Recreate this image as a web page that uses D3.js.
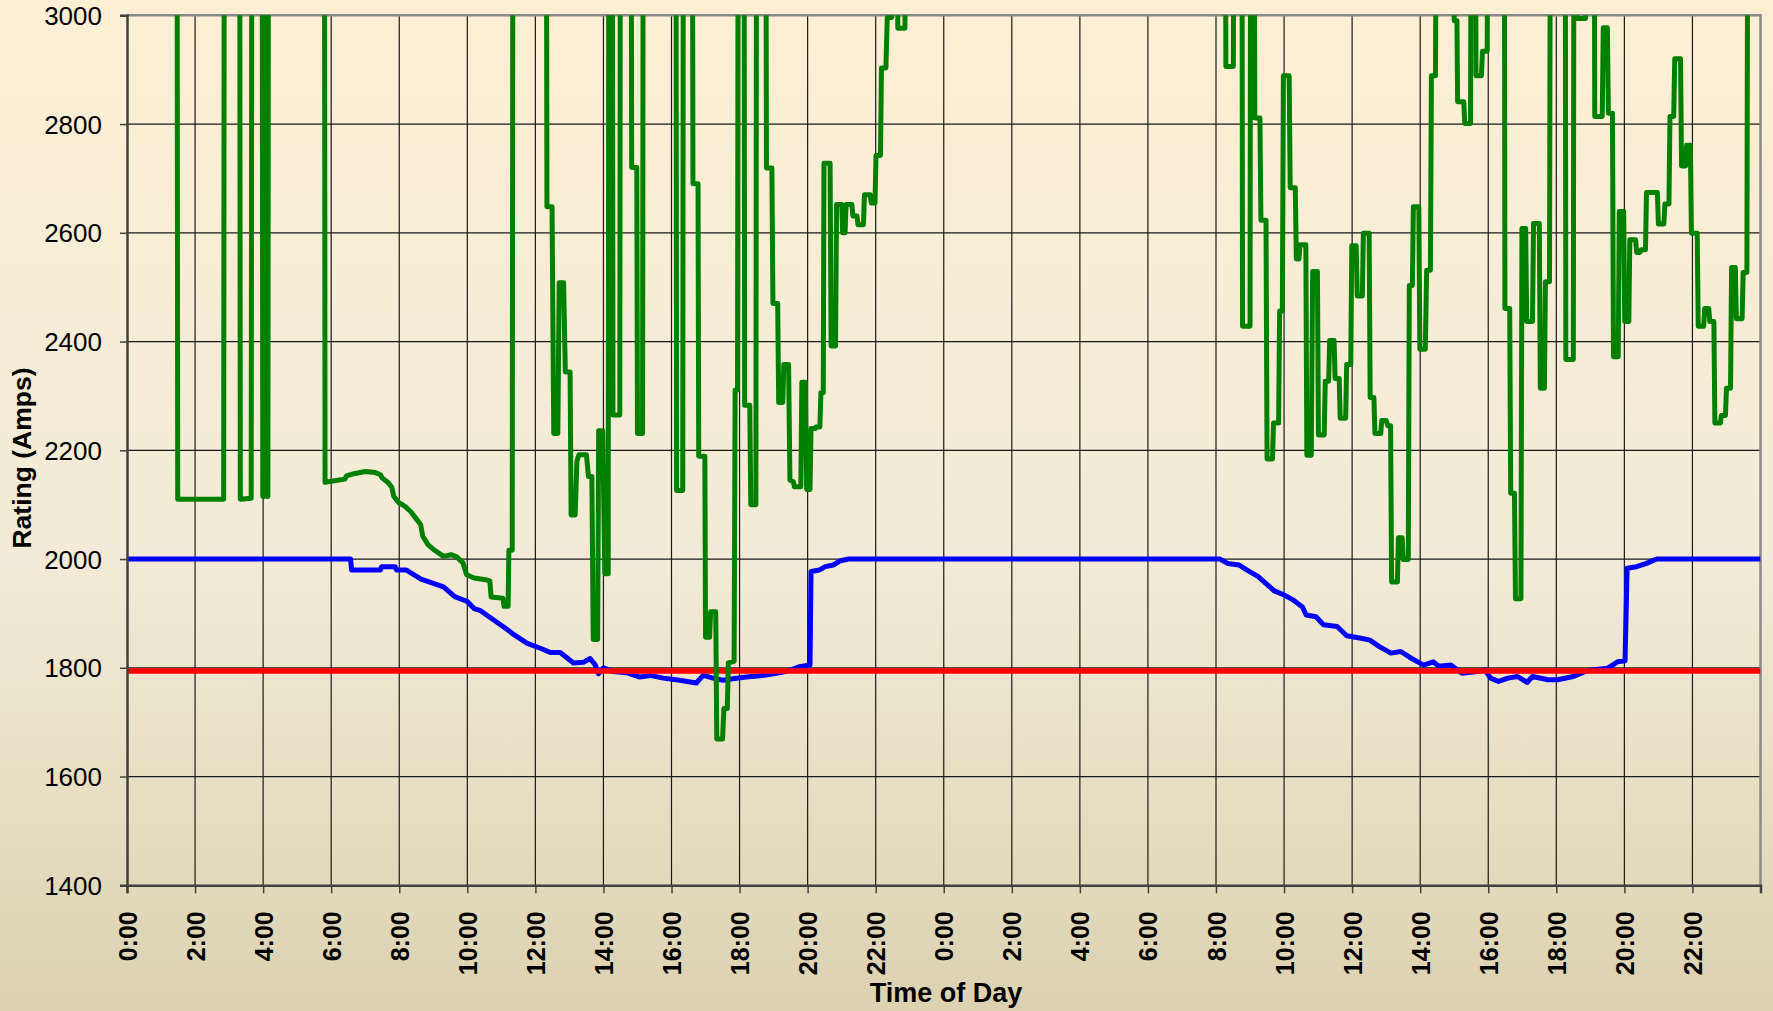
<!DOCTYPE html>
<html>
<head>
<meta charset="utf-8">
<script src="https://cdn.jsdelivr.net/npm/d3@7"></script>
<style>
  body { margin: 0; padding: 0; overflow: hidden; }
  svg { display: block; }
  text { font-family: "Liberation Sans", Arial, sans-serif; fill: #000; }
</style>
</head>
<body>
<svg id="chart" width="1773" height="1011"></svg>
<script>
// values above the 3000 axis max (drawn but clipped off the top)
const OFF = 3400;

const xTicks = d3.range(0, 49, 2);           // hours over two days
const yTicks = d3.range(1400, 3001, 200);

// red: limit line
const redPts = [[0, 1794], [48, 1794]];

// blue: rating
const bluePts = [
  [0, 2000], [6.57, 2000], [6.6, 1980], [7.45, 1980], [7.48, 1986], [7.88, 1986], [7.92, 1980], [8.2, 1980],
  [8.64, 1963], [9.3, 1949], [9.63, 1931], [10.0, 1922], [10.2, 1909], [10.39, 1905], [10.68, 1892],
  [11.07, 1875], [11.37, 1861], [11.76, 1845], [12.15, 1836], [12.44, 1828], [12.73, 1828], [13.12, 1809],
  [13.41, 1810], [13.61, 1817], [13.76, 1805], [13.85, 1789], [14.0, 1800], [14.29, 1793], [14.68, 1791],
  [15.07, 1783], [15.37, 1786], [15.76, 1781], [16.24, 1777], [16.73, 1772], [16.93, 1786], [17.22, 1781],
  [17.51, 1777], [17.8, 1780], [18.2, 1783], [18.68, 1786], [19.17, 1791], [19.46, 1795], [19.76, 1802],
  [20.07, 1805], [20.1, 1977], [20.35, 1980], [20.52, 1986], [20.75, 1989], [20.97, 1997], [21.2, 2000],
  [32.12, 2000], [32.34, 1992], [32.68, 1989], [32.9, 1980], [33.23, 1968], [33.58, 1949], [33.7, 1942],
  [34.0, 1934], [34.26, 1925], [34.54, 1912], [34.65, 1897], [34.94, 1894], [35.16, 1879], [35.56, 1876],
  [35.84, 1859], [36.3, 1854], [36.52, 1851], [36.8, 1839], [37.14, 1827], [37.43, 1830], [37.7, 1819],
  [38.1, 1805], [38.38, 1811], [38.55, 1803], [38.9, 1805], [39.23, 1790], [39.68, 1793], [39.9, 1796],
  [40.07, 1781], [40.3, 1775], [40.58, 1781], [40.86, 1784], [41.14, 1773], [41.3, 1784], [41.76, 1778],
  [42.04, 1778], [42.5, 1784], [42.84, 1793], [43.06, 1796], [43.5, 1799], [43.8, 1811], [44.02, 1813],
  [44.08, 1983], [44.36, 1986], [44.65, 1992], [44.87, 1998], [44.95, 2000], [48, 2000]
];

// green: dynamic rating
const greenPts = [
  [0, OFF], [1.47, OFF], [1.49, 2110], [2.84, 2110], [2.86, OFF],
  [3.31, OFF], [3.33, 2110], [3.65, 2112], [3.67, OFF],
  [3.97, OFF], [3.99, 2115], [4.03, 2115], [4.05, OFF], [4.09, OFF], [4.11, 2115], [4.14, 2115], [4.16, OFF],
  [5.8, OFF], [5.82, 2141], [6.0, 2143], [6.4, 2147], [6.45, 2153], [6.67, 2157], [7.0, 2161], [7.3, 2159],
  [7.45, 2155], [7.5, 2149], [7.67, 2141], [7.78, 2132], [7.84, 2115], [8.0, 2103], [8.17, 2097], [8.34, 2087],
  [8.45, 2078], [8.63, 2063], [8.69, 2042], [8.85, 2026], [9.02, 2017], [9.3, 2005], [9.52, 2008], [9.69, 2004],
  [9.87, 1993], [9.98, 1971], [10.2, 1965], [10.54, 1962], [10.66, 1960], [10.7, 1930], [11.05, 1928],
  [11.08, 1913], [11.2, 1913], [11.22, 2016], [11.32, 2016], [11.34, OFF],
  [12.32, OFF], [12.34, 2648], [12.49, 2648], [12.54, 2231], [12.66, 2231], [12.7, 2508], [12.83, 2508],
  [12.88, 2344], [13.02, 2344], [13.05, 2081], [13.17, 2081], [13.22, 2180], [13.28, 2192], [13.5, 2192],
  [13.56, 2152], [13.66, 2152], [13.7, 1852], [13.83, 1852], [13.86, 2236], [13.98, 2236], [14.04, 1973],
  [14.14, 1973], [14.16, OFF], [14.26, OFF], [14.28, 2265], [14.48, 2265], [14.5, OFF],
  [14.81, OFF], [14.83, 2720], [14.98, 2720], [15.0, 2231], [15.15, 2231], [15.17, OFF],
  [16.13, OFF], [16.15, 2126], [16.33, 2126], [16.35, OFF],
  [16.61, OFF], [16.63, 2690], [16.78, 2690], [16.8, 2189], [16.98, 2189], [17.0, 1856], [17.12, 1856],
  [17.15, 1903], [17.3, 1903], [17.33, 1669], [17.5, 1669], [17.54, 1725], [17.64, 1725], [17.67, 1809],
  [17.84, 1812], [17.87, 2311], [17.94, 2311], [17.96, OFF],
  [18.13, OFF], [18.15, 2283], [18.3, 2283], [18.33, 2100], [18.48, 2100], [18.5, OFF],
  [18.77, OFF], [18.79, 2719], [18.95, 2719], [18.98, 2470], [19.12, 2470], [19.15, 2288], [19.27, 2288],
  [19.3, 2358], [19.44, 2358], [19.48, 2145], [19.58, 2142], [19.61, 2133], [19.8, 2133], [19.83, 2325],
  [19.93, 2325], [19.97, 2128], [20.07, 2128], [20.1, 2240], [20.22, 2240], [20.25, 2243], [20.36, 2243],
  [20.39, 2306], [20.46, 2306], [20.48, 2728], [20.66, 2728], [20.69, 2392], [20.82, 2392], [20.85, 2652],
  [21.0, 2652], [21.03, 2600], [21.1, 2600], [21.13, 2652], [21.3, 2652], [21.33, 2631], [21.45, 2631],
  [21.48, 2615], [21.64, 2615], [21.67, 2670], [21.84, 2670], [21.87, 2655], [21.98, 2655], [22.01, 2742],
  [22.14, 2742], [22.17, 2903], [22.3, 2903], [22.34, 2996], [22.47, 2996], [22.5, OFF], [22.63, OFF],
  [22.65, 2976], [22.86, 2976], [22.88, OFF],
  [32.27, OFF], [32.29, 2906], [32.51, 2906], [32.53, OFF],
  [32.76, OFF], [32.78, 2428], [33.0, 2428], [33.02, OFF],
  [33.12, OFF], [33.14, 2811], [33.29, 2811], [33.32, 2623], [33.47, 2623], [33.5, 2184], [33.66, 2184],
  [33.69, 2250], [33.84, 2250], [33.87, 2456], [33.95, 2456], [33.98, 2889], [34.15, 2889], [34.18, 2683],
  [34.33, 2683], [34.36, 2552], [34.44, 2552], [34.47, 2578], [34.64, 2578], [34.67, 2191], [34.8, 2191],
  [34.84, 2529], [34.98, 2529], [35.01, 2228], [35.18, 2228], [35.21, 2327], [35.31, 2327], [35.34, 2402],
  [35.47, 2402], [35.5, 2332], [35.62, 2332], [35.65, 2259], [35.81, 2259], [35.84, 2358], [35.96, 2358],
  [35.99, 2576], [36.12, 2576], [36.15, 2484], [36.3, 2484], [36.33, 2599], [36.5, 2599], [36.53, 2297],
  [36.64, 2297], [36.67, 2231], [36.84, 2231], [36.87, 2255], [37.0, 2255], [37.05, 2245], [37.13, 2245],
  [37.16, 1958], [37.33, 1958], [37.36, 2039], [37.47, 2039], [37.5, 1999], [37.65, 1999], [37.68, 2503],
  [37.77, 2503], [37.8, 2648], [37.96, 2648], [37.99, 2386], [38.15, 2386], [38.19, 2531], [38.3, 2531],
  [38.33, 2889], [38.45, 2889], [38.48, OFF],
  [38.98, OFF], [39.0, 2990], [39.08, 2990], [39.1, 2841], [39.28, 2841], [39.31, 2801], [39.48, 2801],
  [39.5, OFF], [39.62, OFF], [39.64, 2889], [39.8, 2889], [39.83, 2934], [39.97, 2934], [39.99, OFF],
  [40.47, OFF], [40.49, 2461], [40.63, 2461], [40.66, 2121], [40.77, 2121], [40.8, 1927], [40.96, 1927],
  [40.99, 2608], [41.1, 2608], [41.13, 2437], [41.3, 2437], [41.33, 2617], [41.5, 2617], [41.53, 2314],
  [41.65, 2314], [41.68, 2510], [41.8, 2510], [41.83, OFF],
  [42.26, OFF], [42.28, 2367], [42.5, 2367], [42.52, OFF],
  [42.58, OFF], [42.6, 2994], [42.86, 2994], [42.88, OFF],
  [43.11, OFF], [43.13, 2814], [43.35, 2814], [43.38, 2977], [43.5, 2977], [43.53, 2820], [43.65, 2820],
  [43.68, 2372], [43.82, 2372], [43.85, 2639], [43.98, 2639], [44.01, 2437], [44.13, 2437], [44.16, 2587],
  [44.33, 2587], [44.36, 2564], [44.45, 2564], [44.5, 2569], [44.62, 2569], [44.65, 2674], [44.97, 2674],
  [45.0, 2616], [45.16, 2616], [45.19, 2653], [45.31, 2653], [45.34, 2814], [45.45, 2814], [45.48, 2920],
  [45.65, 2920], [45.68, 2723], [45.8, 2723], [45.83, 2761], [45.94, 2761], [45.97, 2599], [46.14, 2599],
  [46.17, 2428], [46.33, 2428], [46.36, 2461], [46.48, 2461], [46.51, 2437], [46.63, 2437], [46.66, 2250],
  [46.82, 2250], [46.85, 2264], [46.97, 2264], [47.0, 2314], [47.12, 2314], [47.15, 2536], [47.26, 2536],
  [47.29, 2442], [47.46, 2442], [47.49, 2527], [47.6, 2527], [47.63, OFF], [48, OFF]
];

const W = 1773, H = 1011;
const m = {left: 127, right: 12.5, top: 15.3, bottom: 125.7};

const svg = d3.select("#chart");

// background gradient
const defs = svg.append("defs");
const grad = defs.append("linearGradient")
    .attr("id", "bg").attr("x1", 0).attr("y1", 0).attr("x2", 0).attr("y2", 1);
grad.append("stop").attr("offset", "0%").attr("stop-color", "#fcefd4");
grad.append("stop").attr("offset", "55%").attr("stop-color", "#f3ebd7");
grad.append("stop").attr("offset", "100%").attr("stop-color", "#dcd2b1");
svg.append("rect").attr("width", W).attr("height", H).attr("fill", "url(#bg)");

const x = d3.scaleLinear().domain([0, 48]).range([m.left, W - m.right]);
const y = d3.scaleLinear().domain([1400, 3000]).range([H - m.bottom, m.top]);

defs.append("clipPath").attr("id", "plotclip")
  .append("rect")
    .attr("x", x(0)).attr("y", y(3000))
    .attr("width", x(48) - x(0)).attr("height", y(1400) - y(3000));

// grid
const grid = svg.append("g");
grid.selectAll(".hg").data(yTicks.filter(d => d > 1400 && d < 3000)).enter()
  .append("line")
    .attr("x1", x(0)).attr("x2", x(48))
    .attr("y1", d => y(d)).attr("y2", d => y(d))
    .attr("stroke", "#1a1a1a").attr("stroke-width", 1.2);
grid.selectAll(".vg").data(xTicks.filter(d => d > 0 && d < 48)).enter()
  .append("line")
    .attr("x1", d => x(d)).attr("x2", d => x(d))
    .attr("y1", y(3000)).attr("y2", y(1400))
    .attr("stroke", "#1a1a1a").attr("stroke-width", 1.2);

// plot border (top / right)
svg.append("path")
    .attr("d", `M${x(0)},${y(3000)}H${x(48)}V${y(1400)}`)
    .attr("fill", "none").attr("stroke", "#8a8a8a").attr("stroke-width", 2.5);

// series
const line = d3.line().x(d => x(d[0])).y(d => y(d[1]));
const series = svg.append("g").attr("clip-path", "url(#plotclip)");
series.append("path").datum(bluePts)
    .attr("d", line).attr("fill", "none")
    .attr("stroke", "#0000ff").attr("stroke-width", 5).attr("stroke-linejoin", "round");
series.append("path").datum(redPts)
    .attr("d", line).attr("fill", "none")
    .attr("stroke", "#ff0000").attr("stroke-width", 5.5);
series.append("path").datum(greenPts)
    .attr("d", line).attr("fill", "none")
    .attr("stroke", "#008000").attr("stroke-width", 5).attr("stroke-linejoin", "round");

// axes
const xAxis = d3.axisBottom(x).tickValues(xTicks).tickSize(8)
    .tickFormat(d => d < 48 ? (d % 24) + ":00" : "");
const gx = svg.append("g").attr("transform", `translate(0,${y(1400)})`).call(xAxis);
gx.select(".domain").attr("stroke", "#404040").attr("stroke-width", 2.5);
gx.selectAll(".tick line").attr("stroke", "#404040").attr("stroke-width", 1.5);
gx.selectAll(".tick text")
    .attr("font-size", 25).attr("font-weight", "bold")
    .attr("text-anchor", "end")
    .attr("transform", "rotate(-90)")
    .attr("x", -26).attr("y", 0).attr("dy", "0.36em");

const yAxis = d3.axisLeft(y).tickValues(yTicks).tickSize(7).tickFormat(d3.format("d"));
const gy = svg.append("g").attr("transform", `translate(${x(0)},0)`).call(yAxis);
gy.select(".domain").attr("stroke", "#404040").attr("stroke-width", 2.5);
gy.selectAll(".tick line").attr("stroke", "#404040").attr("stroke-width", 1.5);
gy.selectAll(".tick text").attr("font-size", 26).attr("x", -25).attr("dy", "0.35em");

// titles
svg.append("text")
    .attr("x", 946).attr("y", 1002)
    .attr("text-anchor", "middle")
    .attr("font-size", 27).attr("font-weight", "bold")
    .text("Time of Day");
svg.append("text")
    .attr("transform", "translate(22,458) rotate(-90)")
    .attr("text-anchor", "middle").attr("dy", "0.35em")
    .attr("font-size", 26.5).attr("font-weight", "bold")
    .text("Rating (Amps)");
</script>
</body>
</html>
